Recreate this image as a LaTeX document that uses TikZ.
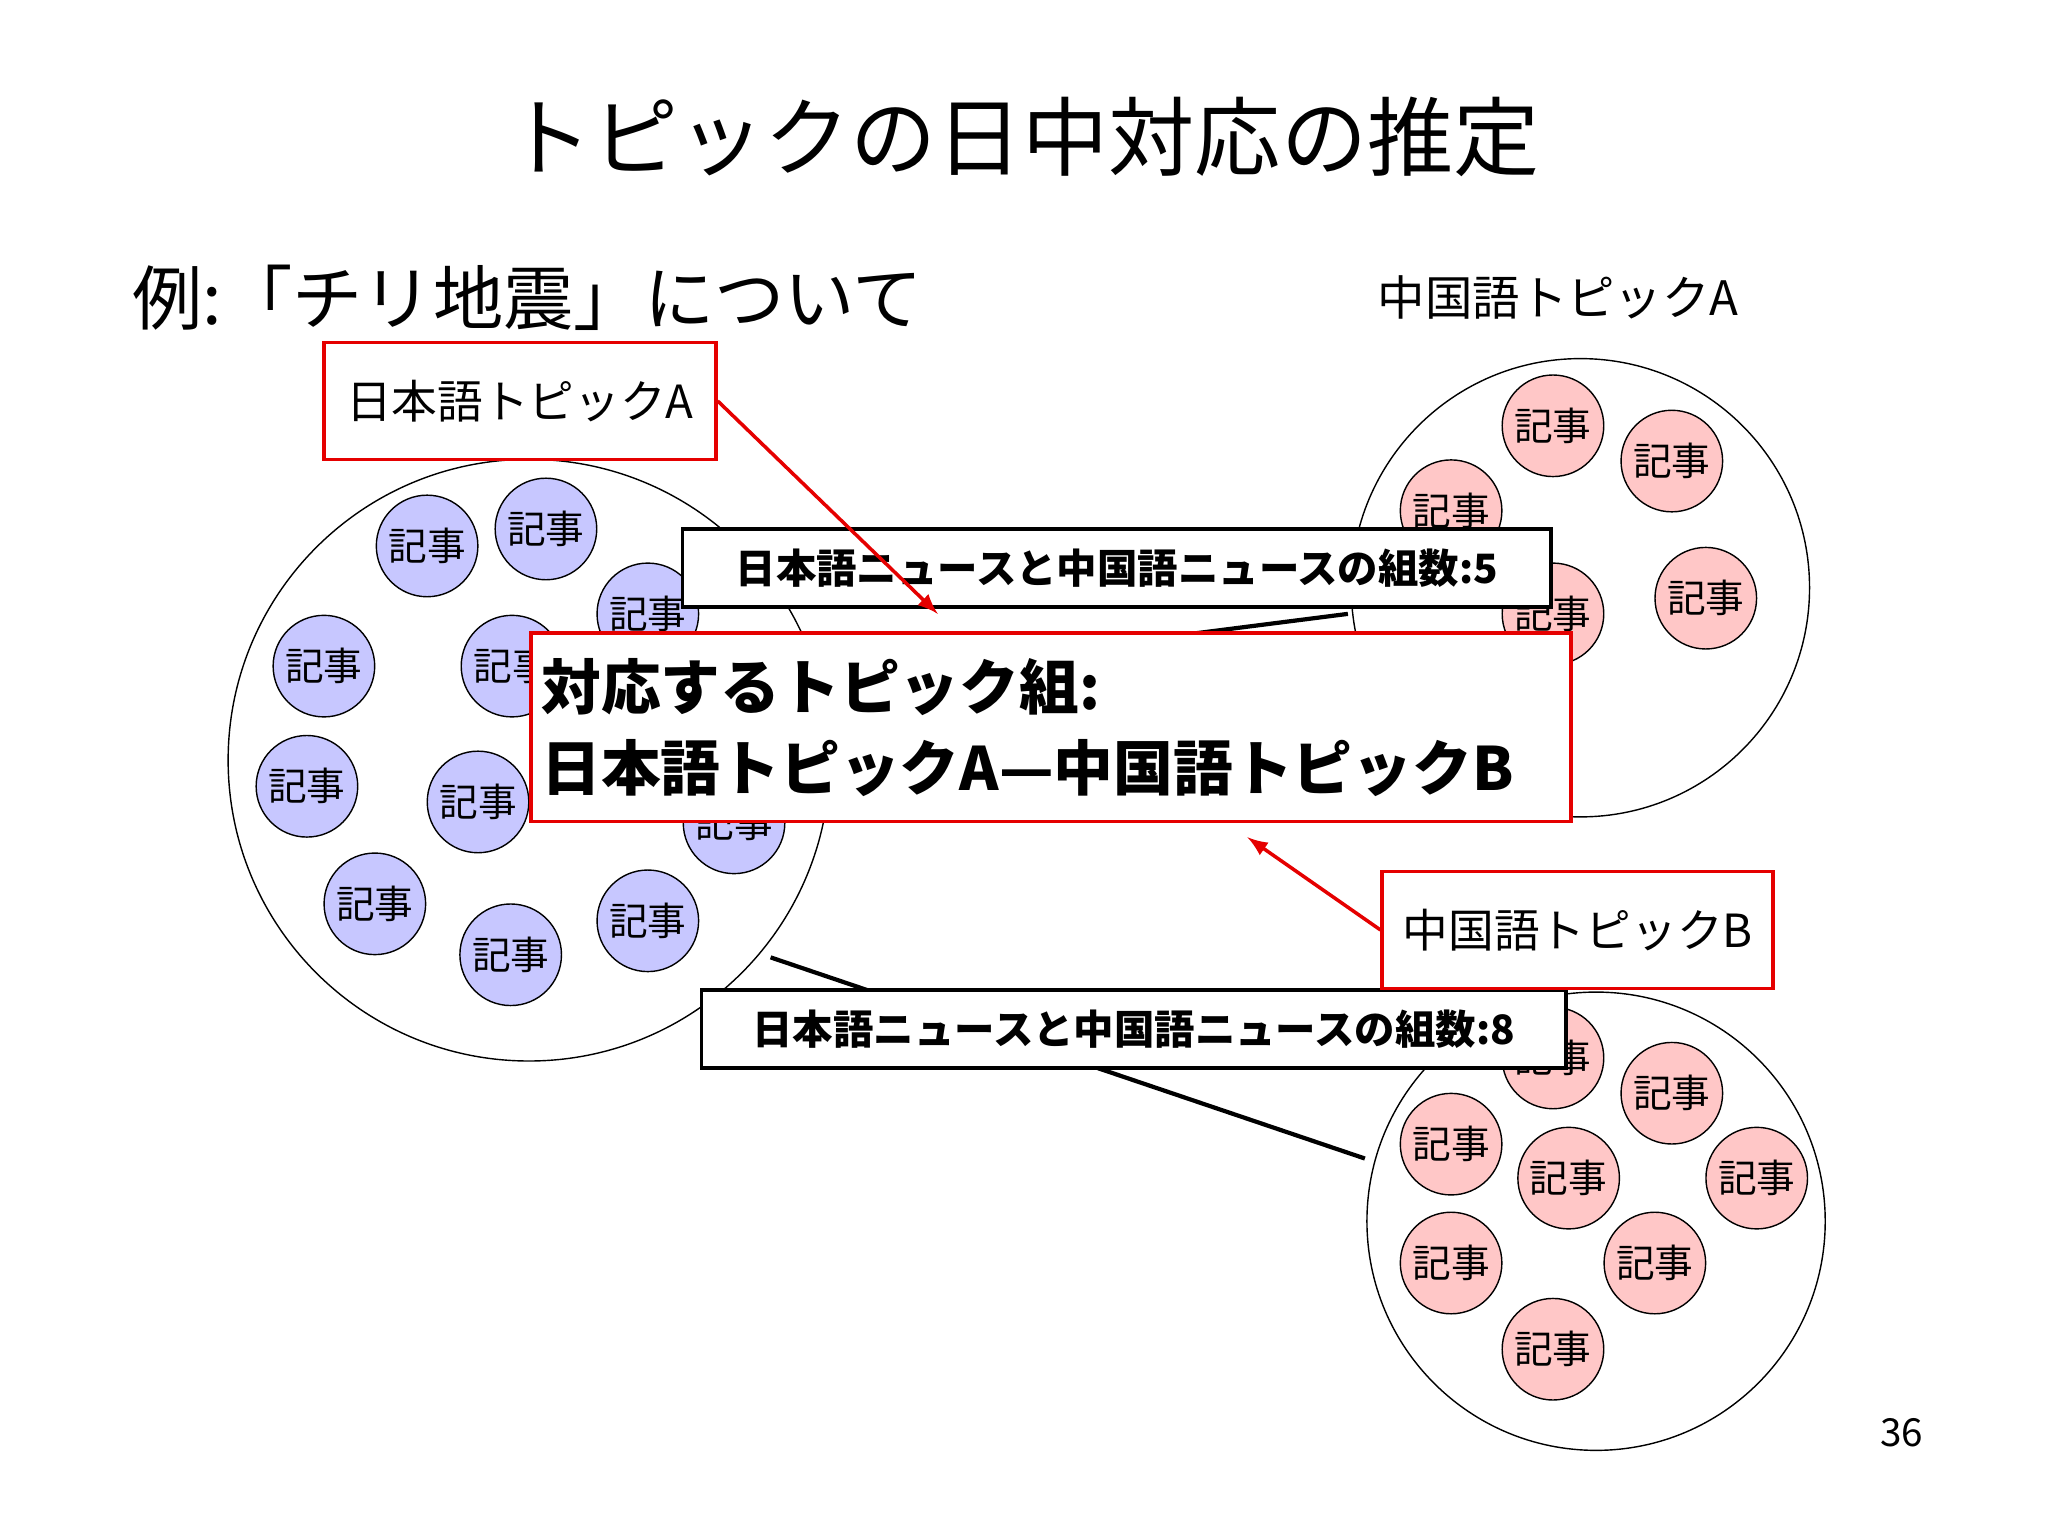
\documentclass[tikz,border=0pt]{standalone}
\usepackage{fontspec}
\setmainfont{Noto Sans CJK JP}
\begin{document}
\begin{tikzpicture}[x=0.01306cm,y=-0.01306cm,
  art/.style={circle,draw,minimum size=28.9pt,inner sep=0,font=\fontsize{11}{11}\selectfont},
  jp/.style={art,fill=blue!22},
  cn/.style={art,fill=red!22},
  big/.style={circle,draw,inner sep=0},
  redbox/.style={draw=red!90!black,line width=1.1pt,fill=white},
  blkbox/.style={draw,line width=1pt,fill=white,font=\fontsize{11.5}{11.5}\selectfont\bfseries},
  redarrow/.style={red!90!black,line width=1pt,-latex},
  conn/.style={line width=1.2pt}]
\useasboundingbox (0,0) rectangle (1568,1176);
\node[font=\fontsize{24.5}{24.5}\selectfont] (title) at (783,105) {トピックの日中対応の推定};
\node[anchor=west,font=\fontsize{20}{20}\selectfont] (ex) at (92,228) {例:「チリ地震」について};
\node[font=\fontsize{13.5}{13.5}\selectfont] (cnAlab) at (1193,228) {中国語トピックA};
\node[big,minimum size=171.2pt] (L) at (405,582) {};
\node[big,minimum size=130.4pt] (TR) at (1210,450) {};
\node[big,minimum size=130.4pt] (BR) at (1222,935) {};
\foreach \p [count=\i] in {(327,418),(418,405),(496,470),(248,510),(392,510),(235,602),(366,614),(562,630),(287,692),(391,731),(496,705)}
  \node[jp] (j\i) at \p {記事};
\foreach \p [count=\i] in {(1189,326),(1280,353),(1111,391),(1189,470),(1306,458)}
  \node[cn] (a\i) at \p {記事};
\foreach \p [count=\i] in {(1189,810),(1280,837),(1111,876),(1201,902),(1345,902),(1111,967),(1267,967),(1189,1033)}
  \node[cn] (b\i) at \p {記事};
\coordinate (l1) at (640,520); \coordinate (r1) at (1032,470);
\coordinate (l2) at (590,733); \coordinate (r2) at (1045,887);
\draw[conn] (l1) -- (r1);
\draw[conn] (l2) -- (r2);
\node[blkbox,minimum width=247.1pt,minimum height=22.2pt] (n5) at (855,435) {日本語ニュースと中国語ニュースの組数:5};
\node[blkbox,minimum width=246pt,minimum height=22.2pt] (n8) at (868,788) {日本語ニュースと中国語ニュースの組数:8};
\node[redbox,anchor=north west,align=left,text width=290pt,inner xsep=3pt,inner ysep=5pt,minimum height=53.7pt,font=\fontsize{17}{23}\selectfont\bfseries] (res) at (405,483) {対応するトピック組:\\日本語トピックA—中国語トピックB};
\node[redbox,minimum width=111.5pt,minimum height=33.3pt,font=\fontsize{13}{13}\selectfont] (jA) at (398,307) {日本語トピックA};
\node[redbox,minimum width=111.2pt,minimum height=33.3pt,font=\fontsize{13}{13}\selectfont] (cB) at (1208,712) {中国語トピックB};
\coordinate (t1) at (718,470);
\coordinate (t2) at (955,641);
\draw[redarrow] (jA.east) -- (t1);
\draw[redarrow] (cB.west) -- (t2);
\node[font=\fontsize{11}{11}\selectfont] (pg) at (1456,1097) {36};
\end{tikzpicture}
\end{document}
